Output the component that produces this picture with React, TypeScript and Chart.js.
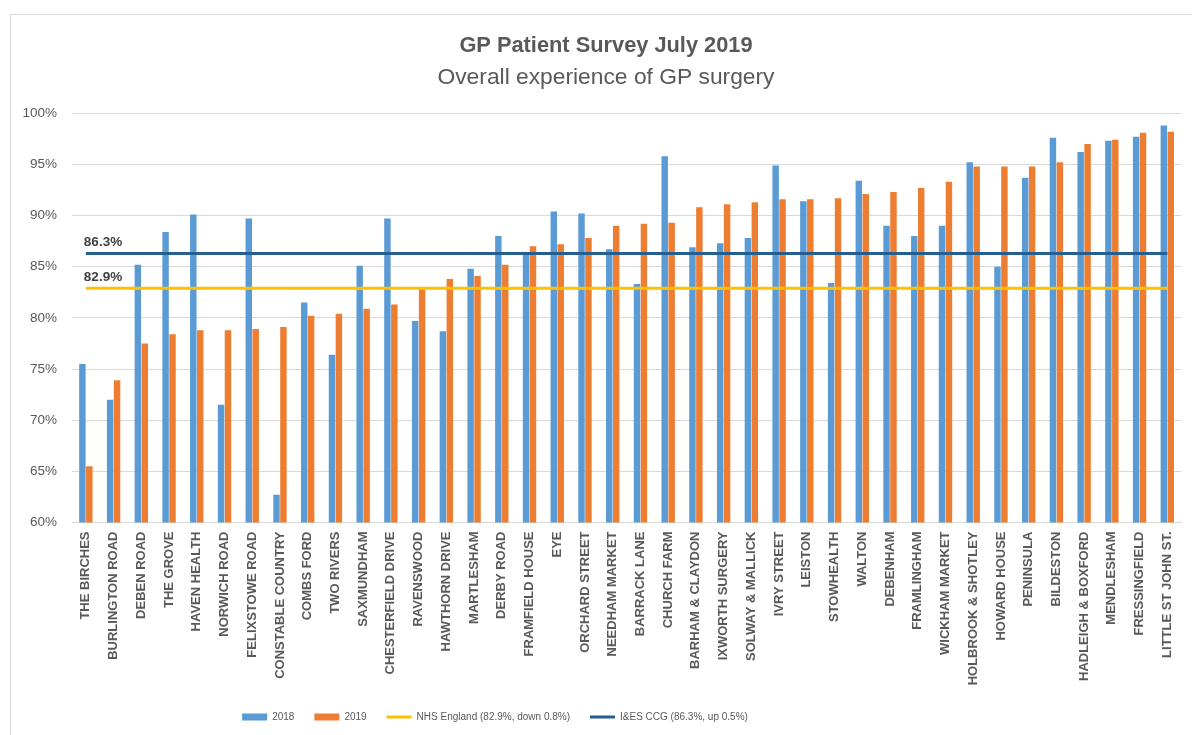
import React, { useEffect, useRef } from 'react';
import { Chart, registerables } from 'chart.js';

Chart.register(...registerables);

const categories = [
  'THE BIRCHES', 'BURLINGTON ROAD', 'DEBEN ROAD', 'THE GROVE', 'HAVEN HEALTH',
  'NORWICH ROAD', 'FELIXSTOWE ROAD', 'CONSTABLE COUNTRY', 'COMBS FORD', 'TWO RIVERS',
  'SAXMUNDHAM', 'CHESTERFIELD DRIVE', 'RAVENSWOOD', 'HAWTHORN DRIVE', 'MARTLESHAM',
  'DERBY ROAD', 'FRAMFIELD HOUSE', 'EYE', 'ORCHARD STREET', 'NEEDHAM MARKET',
  'BARRACK LANE', 'CHURCH FARM', 'BARHAM & CLAYDON', 'IXWORTH SURGERY', 'SOLWAY & MALLICK',
  'IVRY STREET', 'LEISTON', 'STOWHEALTH', 'WALTON', 'DEBENHAM',
  'FRAMLINGHAM', 'WICKHAM MARKET', 'HOLBROOK & SHOTLEY', 'HOWARD HOUSE', 'PENINSULA',
  'BILDESTON', 'HADLEIGH & BOXFORD', 'MENDLESHAM', 'FRESSINGFIELD', 'LITTLE ST JOHN ST.',
];

const values2018 = [
  75.5, 72.0, 85.2, 88.4, 90.1, 71.5, 89.7, 62.7, 81.5, 76.4,
  85.1, 89.7, 79.7, 78.7, 84.8, 88.0, 86.4, 90.4, 90.2, 86.7,
  83.3, 95.8, 86.9, 87.3, 87.8, 94.9, 91.4, 83.4, 93.4, 89.0,
  88.0, 89.0, 95.2, 85.0, 93.7, 97.6, 96.2, 97.3, 97.7, 98.8,
];

const values2019 = [
  65.5, 73.9, 77.5, 78.4, 78.8, 78.8, 78.9, 79.1, 80.2, 80.4,
  80.9, 81.3, 82.8, 83.8, 84.1, 85.2, 87.0, 87.2, 87.8, 89.0,
  89.2, 89.3, 90.8, 91.1, 91.3, 91.6, 91.6, 91.7, 92.1, 92.3,
  92.7, 93.3, 94.8, 94.8, 94.8, 95.2, 97.0, 97.4, 98.1, 98.2,
];

const nhsEngland = 82.9;
const ccgAverage = 86.3;

const seriesLabels = ['2018', '2019', 'NHS England (82.9%, down 0.8%)', 'I&ES CCG (86.3%, up 0.5%)'];
const yTicks = [60, 65, 70, 75, 80, 85, 90, 95, 100];

const FONT = "'Liberation Sans', Arial, sans-serif";

const refLabelPlugin = {
  id: 'refLabels',
  afterDatasetsDraw(chart: any) {
    const ctx = chart.ctx;
    chart.data.datasets.forEach((ds: any, i: number) => {
      if (ds.type !== 'line' || !ds.refLabel) return;
      const meta = chart.getDatasetMeta(i);
      const pt = meta.data[0];
      if (!pt) return;
      ctx.save();
      ctx.font = `bold 13.5px ${FONT}`;
      ctx.fillStyle = '#404040';
      ctx.textBaseline = 'middle';
      ctx.textAlign = 'left';
      ctx.fillText(ds.refLabel, pt.x - 2, pt.y - 11);
      ctx.restore();
    });
  },
};

// Shift the title block and the legend horizontally, as in the original layout.
const boxShiftPlugin = {
  id: 'boxShift',
  afterLayout(chart: any) {
    chart.boxes.forEach((b: any) => {
      if (b === chart.legend) {
        b.left -= 97.5;
        b.right -= 97.5;
      } else if (b.position === 'top') {
        b.left += 13.5;
        b.right += 13.5;
      }
    });
  },
};

export default function App() {
  const canvasRef = useRef<HTMLCanvasElement | null>(null);

  useEffect(() => {
    if (!canvasRef.current) return;
    const chart = new Chart(canvasRef.current, {
      type: 'bar',
      data: {
        labels: categories,
        datasets: [
          {
            type: 'bar',
            label: seriesLabels[0],
            data: values2018,
            backgroundColor: '#5B9BD5',
            borderWidth: 0,
            pointStyle: 'rect',
            categoryPercentage: 0.5,
            barPercentage: 0.93,
            order: 2,
          } as any,
          {
            type: 'bar',
            label: seriesLabels[1],
            data: values2019,
            backgroundColor: '#ED7D31',
            borderWidth: 0,
            pointStyle: 'rect',
            categoryPercentage: 0.5,
            barPercentage: 0.93,
            order: 2,
          } as any,
          {
            type: 'line',
            label: seriesLabels[2],
            data: categories.map(() => nhsEngland),
            refLabel: `${nhsEngland}%`,
            borderColor: '#FFC000',
            backgroundColor: '#FFC000',
            borderWidth: 3,
            pointRadius: 0,
            pointHoverRadius: 0,
            pointStyle: 'line',
            fill: false,
            order: 1,
          } as any,
          {
            type: 'line',
            label: seriesLabels[3],
            data: categories.map(() => ccgAverage),
            refLabel: `${ccgAverage}%`,
            borderColor: '#255E91',
            backgroundColor: '#255E91',
            borderWidth: 3,
            pointRadius: 0,
            pointHoverRadius: 0,
            pointStyle: 'line',
            fill: false,
            order: 0,
          } as any,
        ],
      },
      options: {
        responsive: true,
        maintainAspectRatio: false,
        animation: false,
        layout: { padding: { left: 0, right: 7, top: 0, bottom: 3 } },
        scales: {
          x: {
            grid: { display: false, drawTicks: false },
            border: { display: true, color: '#D9D9D9', width: 1 },
            ticks: {
              autoSkip: false,
              maxRotation: 90,
              minRotation: 90,
              padding: 9,
              color: '#595959',
              font: { family: FONT, size: 13, weight: 'bold' },
            },
            afterFit(scale: any) {
              scale.height = 169.5;
            },
          },
          y: {
            min: 60,
            max: 100,
            grid: { color: '#D9D9D9', lineWidth: 1, drawTicks: false },
            border: { display: false },
            afterBuildTicks(scale: any) {
              scale.ticks = yTicks.map((v) => ({ value: v }));
            },
            ticks: {
              padding: 15,
              color: '#595959',
              font: { family: FONT, size: 13.5 },
              callback: (v: any) => `${v}%`,
            },
            afterFit(scale: any) {
              scale.width = 72;
            },
          },
        },
        plugins: {
          title: {
            display: true,
            text: 'GP Patient Survey July 2019',
            color: '#595959',
            font: { family: FONT, size: 21.8, weight: 'bold' },
            padding: { top: 32.5, bottom: 3 },
          },
          subtitle: {
            display: true,
            text: 'Overall experience of GP surgery',
            color: '#595959',
            font: { family: FONT, size: 22.8, weight: 'normal' },
            padding: { top: 2.6, bottom: 21.6 },
          },
          legend: {
            position: 'bottom',
            labels: {
              usePointStyle: true,
              pointStyleWidth: 25,
              boxHeight: 7,
              padding: 20,
              color: '#595959',
              font: { family: FONT, size: 10 },
              sort: (a: any, b: any) => a.datasetIndex - b.datasetIndex,
            },
          },
          tooltip: { enabled: false },
        },
      } as any,
      plugins: [refLabelPlugin, boxShiftPlugin],
    });
    return () => chart.destroy();
  }, []);

  return (
    <div style={{ position: 'fixed', left: 0, top: 0, width: 1192, height: 735, background: '#fff' }}>
      <div
        style={{
          position: 'absolute',
          left: 10,
          top: 14,
          right: -2,
          bottom: -2,
          borderTop: '1px solid #D9D9D9',
          borderLeft: '1px solid #D9D9D9',
        }}
      />
      <canvas ref={canvasRef} style={{ position: 'relative' }} />
    </div>
  );
}
